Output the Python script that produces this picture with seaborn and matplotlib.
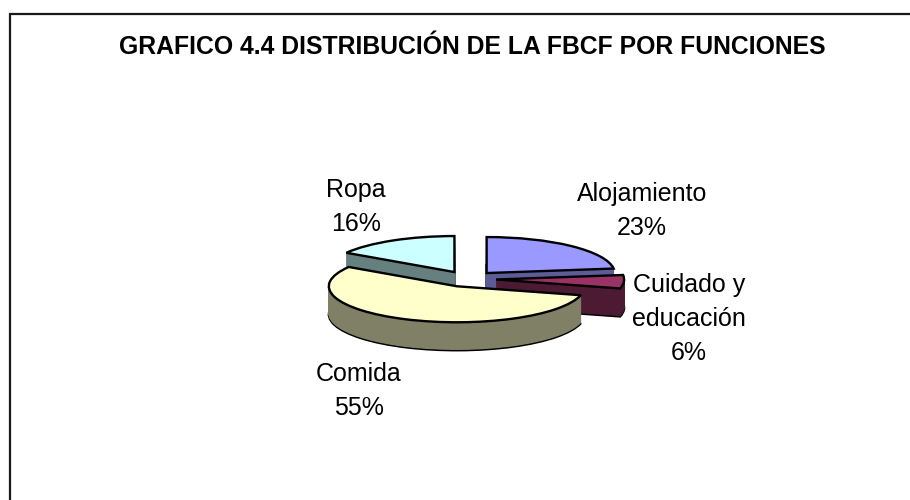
import numpy as np
import matplotlib
matplotlib.use('Agg')
import matplotlib.pyplot as plt
import seaborn as sns
from matplotlib.patches import Rectangle

# data
categories = ['Alojamiento', 'Cuidado y\neducación', 'Comida', 'Ropa']
shares = [23, 6, 55, 16]
top_colors = ['#9999FF', '#993366', '#FFFFCC', '#CCFFFF']
side_colors = ['#5C5C99', '#4D1A33', '#808066', '#668080']
title = 'GRAFICO 4.4 DISTRIBUCIÓN DE LA FBCF POR FUNCIONES'

sns.set_theme(style='white')
plt.rcParams['font.family'] = ['Liberation Sans', 'DejaVu Sans']

W, H = 910, 500
fig = plt.figure(figsize=(W / 100, H / 100), dpi=100)
ax = fig.add_axes([0, 0, 1, 1])

# pixel geometry of the tilted pie
cx, cy = 468, 279      # pie centre in pixels
rx, ry = 128, 36       # ellipse radii in pixels
depth = 28             # thickness in pixels
explode = [0.22] * len(shares)

# side walls: stack of shifted pies, bottom one outlined
n_layers = 30
for i, d in enumerate(np.linspace(depth / ry, 0, n_layers, endpoint=False)):
    if i == 0:
        wp = dict(edgecolor='black', linewidth=1.7)
    else:
        wp = dict(linewidth=0.9)
    wedges, _ = ax.pie(shares, startangle=90, counterclock=False, explode=explode,
                       colors=side_colors, center=(0, -d), wedgeprops=wp)
    if i > 0:
        for w, c in zip(wedges, side_colors):
            w.set_edgecolor(c)

# top faces
ax.pie(shares, startangle=90, counterclock=False, explode=explode,
       colors=top_colors, wedgeprops=dict(edgecolor='black', linewidth=1.7))

ax.set_aspect('auto')
ax.set_xlim(-cx / rx, (W - cx) / rx)
ax.set_ylim((cy - H) / ry, cy / ry)
ax.axis('off')

# labels (positions in pixels)
label_pos = {
    'Alojamiento': (642, 211),
    'Cuidado y\neducación': (689, 319),
    'Comida': (359, 391),
    'Ropa': (356, 207),
}
for cat, val in zip(categories, shares):
    x, y = label_pos[cat]
    fig.text(x / W, 1 - y / H, f'{cat}\n{val}%', ha='center', va='center',
             fontsize=18, color='black', linespacing=1.55)

fig.text(472 / W, 1 - 47 / H, title, ha='center', va='center',
         fontsize=17.8, fontweight='bold', color='black')

# chart frame (only left and top edges fall inside the picture)
fig.patches.append(Rectangle((10 / W, -0.1), 1.2, 1 - 13.5 / H + 0.1,
                             transform=fig.transFigure, fill=False,
                             edgecolor='#1a1a1a', linewidth=1.6))

fig.savefig('out.png', dpi=100, facecolor='white')
